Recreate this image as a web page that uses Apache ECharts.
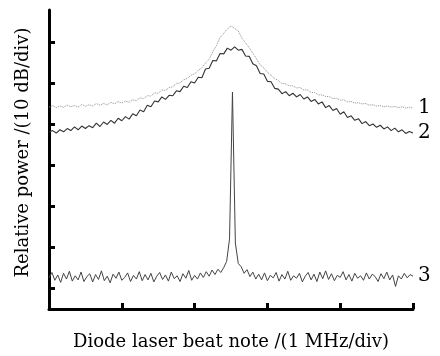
<!DOCTYPE html>
<html><head><meta charset="utf-8">
<script src="https://cdn.jsdelivr.net/npm/echarts@6/dist/echarts.min.js"></script>
<style>html,body{margin:0;padding:0;background:#fff}#c{width:440px;height:356px}</style>
</head><body><div id="c"></div>
<script>
// x sampling (MHz, axis spans 5 div of 1 MHz)
const xStep12 = 0.05;
const xStep3 = 0.04;
// trace 1 (dotted) relative power, dB
const trace1 = [44.1,44.5,44.0,44.4,44.1,44.6,44.2,44.5,44.1,44.8,
 44.3,44.7,44.4,45.0,44.6,45.0,44.7,45.3,44.9,45.5,
 45.1,45.6,45.3,45.9,45.7,46.4,46.2,46.9,46.8,47.6,
 47.5,48.3,48.2,48.9,49.1,49.9,50.0,50.8,51.1,51.9,
 52.2,53.1,53.7,54.9,55.8,57.6,59.1,61.1,62.1,63.2,
 63.9,63.3,62.7,60.9,59.8,58.6,57.3,55.9,54.4,53.7,
 52.6,51.9,51.1,50.6,49.9,49.8,49.3,49.3,48.8,48.9,
 48.3,48.3,47.7,47.7,47.1,47.1,46.7,46.7,46.2,46.3,
 45.8,45.9,45.4,45.5,45.1,45.2,44.9,45.0,44.6,44.7,
 44.4,44.5,44.2,44.4,44.1,44.3,44.0,44.2,43.9,44.1,
 43.9];
// trace 2 (solid)
const trace2 = [38.0,38.4,37.8,38.6,38.1,38.9,38.4,39.3,38.6,39.5,
 38.9,39.6,39.1,40.2,39.4,40.5,39.9,40.9,40.2,41.4,
 40.8,41.8,41.2,42.5,42.0,43.4,43.0,44.6,44.2,45.6,
 45.4,46.6,46.0,47.0,46.9,48.1,47.9,49.2,48.9,50.3,
 50.0,51.4,51.3,53.4,53.6,55.5,55.4,57.2,57.1,58.5,
 58.0,58.8,58.0,58.2,56.6,56.5,54.7,54.2,52.3,52.2,
 50.4,50.3,48.7,48.5,47.4,47.9,46.9,47.5,46.6,47.2,
 46.1,46.6,45.5,46.0,44.9,45.4,44.0,44.5,43.3,43.8,
 42.4,43.0,41.6,42.0,40.9,41.3,40.1,40.6,39.6,40.0,
 39.2,39.7,38.8,39.3,38.4,39.0,38.1,38.6,37.7,38.2,
 37.8];
// trace 3 (locked, narrow beat note)
const trace3 = [2.5,3.8,1.9,3.2,1.4,3.6,2.2,4.1,1.7,3.0,
 2.0,3.9,1.6,2.8,3.5,1.5,3.3,2.1,4.2,1.8,
 2.9,1.3,3.4,2.4,3.9,1.9,2.6,3.7,1.6,3.1,
 2.2,4.0,1.8,3.3,2.0,3.6,1.5,2.9,3.8,2.1,
 3.2,1.7,3.9,2.3,3.0,1.6,3.5,2.4,4.3,1.9,
 3.1,2.2,3.7,2.6,4.0,2.9,4.4,3.3,4.6,3.8,
 5.0,6.5,12.0,47.8,11.0,6.0,5.2,3.6,
 4.5,2.8,3.9,2.2,3.4,2.0,3.7,1.8,3.1,2.5,
 3.8,1.7,3.3,2.2,4.1,1.9,3.0,2.4,3.6,1.5,
 2.9,3.8,2.0,3.4,1.6,3.9,2.3,4.2,2.1,3.5,
 1.8,3.1,2.6,4.0,2.0,3.3,1.7,3.6,2.4,3.0,
 1.9,3.7,2.2,3.4,2.8,1.6,3.5,2.3,3.9,2.0,
 3.2,0.4,3.0,2.2,3.6,2.5,3.3,2.9];
const yTicks = [0,10,20,30,40,50,60];
const traceLabels = ['1','2','3'];
const xName = 'Diode laser beat note /(1 MHz/div)';
const yName = 'Relative power /(10 dB/div)';

const FONT = 'DejaVu Serif';
const toPairs = (arr, step) => arr.map((v,i)=>[+(i*step).toFixed(3), v]);
const endLabel = (t) => ({show:true, formatter:t, distance:5, fontFamily:FONT, fontSize:20, color:'#000'});

const chart = echarts.init(document.getElementById('c'), null, {renderer:'canvas'});
chart.setOption({
  animation:false,
  backgroundColor:'#fff',
  grid:{left:49, right:27, top:10, bottom:47},
  xAxis:{type:'value', min:0, max:5, interval:1,
    name:xName, nameLocation:'middle', nameGap:24,
    nameTextStyle:{fontFamily:FONT, fontSize:18, color:'#000'},
    axisLine:{onZero:false, lineStyle:{color:'#000', width:3}},
    axisTick:{inside:true, length:6, lineStyle:{color:'#000', width:3}},
    axisLabel:{show:false}, splitLine:{show:false}},
  yAxis:{type:'value', min:-5.1, max:67.8,
    name:yName, nameLocation:'middle', nameGap:17,
    nameTextStyle:{fontFamily:FONT, fontSize:18, color:'#000', padding:[0,0,0,14]},
    axisLine:{onZero:false, lineStyle:{color:'#000', width:3}},
    axisTick:{inside:true, length:6, customValues:yTicks, lineStyle:{color:'#000', width:3}},
    axisLabel:{show:false, customValues:yTicks}, splitLine:{show:false}},
  series:[
    {type:'line', data:toPairs(trace1,xStep12), showSymbol:false, silent:true,
     lineStyle:{color:'#8f8f8f', width:1, type:'dotted'}, endLabel:endLabel(traceLabels[0])},
    {type:'line', data:toPairs(trace2,xStep12), showSymbol:false, silent:true,
     lineStyle:{color:'#333', width:1.1}, endLabel:endLabel(traceLabels[1])},
    {type:'line', data:toPairs(trace3,xStep3), showSymbol:false, silent:true,
     lineStyle:{color:'#444', width:1}, endLabel:endLabel(traceLabels[2])}
  ]
});
</script></body></html>
